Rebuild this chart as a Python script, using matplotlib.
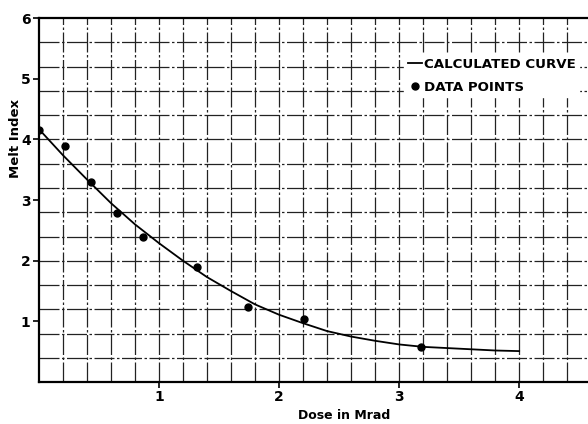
import numpy as np
import matplotlib.pyplot as plt
from matplotlib.lines import Line2D

# values
dose_pts = [0.0, 0.22, 0.43, 0.65, 0.87, 1.32, 1.74, 2.21, 3.18]
melt_pts = [4.15, 3.89, 3.30, 2.79, 2.39, 1.90, 1.24, 1.04, 0.58]

dose_curve = [0.0, 0.2, 0.4, 0.6, 0.8, 1.0, 1.2, 1.4, 1.6, 1.8, 2.0,
              2.2, 2.4, 2.6, 2.8, 3.0, 3.2, 3.4, 3.6, 3.8, 4.0]
melt_curve = [4.17, 3.74, 3.34, 2.95, 2.60, 2.29, 2.00, 1.73, 1.50, 1.28, 1.11,
              0.97, 0.84, 0.75, 0.68, 0.62, 0.58, 0.56, 0.54, 0.52, 0.51]

x_ticks = [1, 2, 3, 4]
y_ticks = [1, 2, 3, 4, 5, 6]

plt.rcParams['font.family'] = ['DejaVu Sans']
plt.rcParams['font.weight'] = 'bold'

fig = plt.figure(figsize=(5.88, 4.24), dpi=100)
ax = fig.add_axes([0.0663, 0.099, 0.934, 0.858])

ax.set_xlim(0, 4.575)
ax.set_ylim(0, 6)

# graph paper grid
for gx in np.arange(0.2, 4.6, 0.2):
    ax.axvline(gx, color='#222222', lw=0.9, ls=(0, (16, 2, 2, 2)), zorder=1)
for gy in np.arange(0.4, 6.0, 0.4):
    ax.axhline(gy, color='#222222', lw=0.9, ls=(0, (16, 2, 2, 2)), zorder=1)

ax.plot(dose_curve, melt_curve, color='black', lw=1.3, zorder=3)
ax.plot(dose_pts, melt_pts, 'o', color='black', markersize=5, zorder=4)

ax.set_xticks(x_ticks)
ax.set_xticklabels([str(t) for t in x_ticks])
ax.set_yticks(y_ticks)
ax.set_yticklabels([str(t) for t in y_ticks])
ax.tick_params(axis='both', direction='out', length=4, width=1.2,
               labelsize=10, pad=2, color='black')

for side in ['left', 'bottom', 'top']:
    ax.spines[side].set_linewidth(1.6)
ax.spines['right'].set_visible(False)

ax.set_xlabel('Dose in Mrad', fontsize=9, fontweight='bold')
ax.set_ylabel('Melt Index', fontsize=9.5, fontweight='bold')
ax.xaxis.set_label_coords(0.556, -0.075)
ax.yaxis.set_label_coords(-0.031, 0.67)

handles = [Line2D([0], [0], color='black', lw=1.3),
           Line2D([0], [0], marker='o', color='black', lw=0, markersize=5)]
leg = ax.legend(handles, ['CALCULATED CURVE', 'DATA POINTS'],
                loc='upper left', bbox_to_anchor=(0.665, 0.901),
                frameon=True, fancybox=False, framealpha=1, edgecolor='white',
                facecolor='white', fontsize=9.6, handlelength=1.1,
                handletextpad=0.1, borderpad=0.25, labelspacing=0.75,
                borderaxespad=0)
leg.set_zorder(5)

fig.savefig('out.png', dpi=100)
